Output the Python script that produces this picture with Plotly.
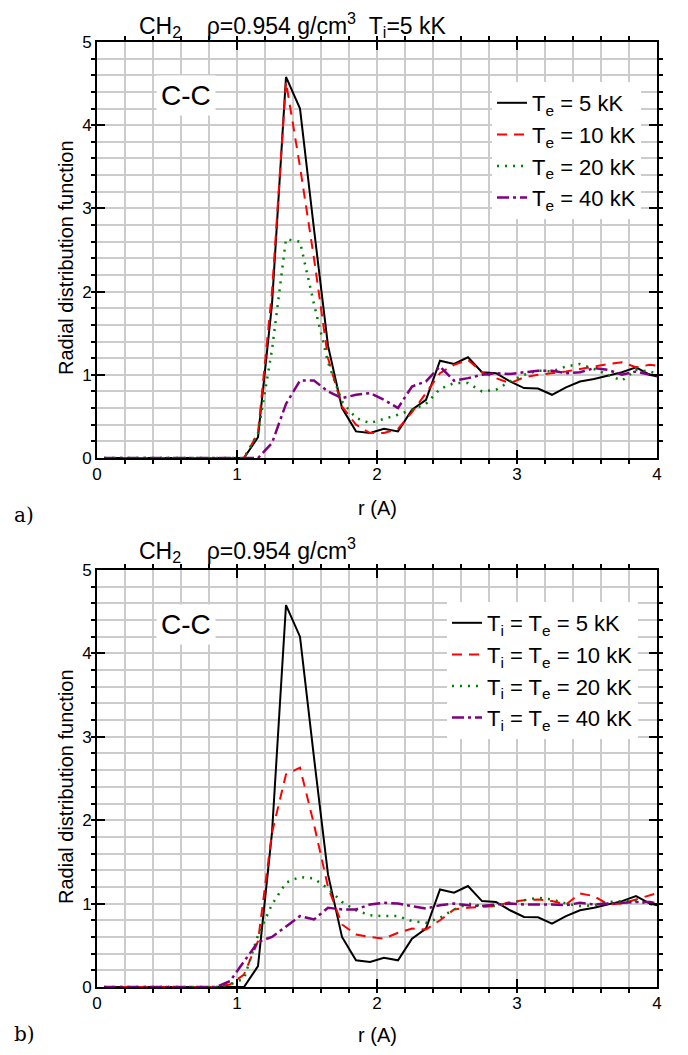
import plotly.graph_objects as go

# r grid (Angstrom)
r = [0.05, 0.15, 0.25, 0.35, 0.45, 0.55, 0.65, 0.75, 0.85, 0.95,
     1.05, 1.15, 1.25, 1.35, 1.45, 1.55, 1.65, 1.75, 1.85, 1.95,
     2.05, 2.15, 2.25, 2.35, 2.45, 2.55, 2.65, 2.75, 2.85, 2.95,
     3.05, 3.15, 3.25, 3.35, 3.45, 3.55, 3.65, 3.75, 3.85, 3.95, 4.05]

# panel a) Ti = 5 kK, varying Te
a_te5 = [0, 0, 0, 0, 0, 0, 0, 0, 0, 0,
         0, 0.25, 1.85, 4.58, 4.2, 2.75, 1.35, 0.6, 0.32, 0.30,
         0.35, 0.32, 0.58, 0.70, 1.17, 1.13, 1.21, 1.03, 1.02, 0.92,
         0.84, 0.835, 0.76, 0.85, 0.92, 0.95, 0.99, 1.03, 1.09, 1.0, 0.96]
a_te10 = [0, 0, 0, 0, 0, 0, 0, 0, 0, 0,
          0, 0.3, 2.0, 4.52, 3.5, 2.4, 1.2, 0.62, 0.40, 0.30,
          0.30, 0.35, 0.55, 0.78, 1.02, 1.12, 1.18, 1.03, 0.96, 0.90,
          0.97, 1.0, 1.02, 1.04, 1.07, 1.10, 1.13, 1.15, 1.09, 1.12, 1.10]
a_te20 = [0, 0, 0, 0, 0, 0, 0, 0, 0, 0,
          0, 0.3, 1.3, 2.63, 2.6, 1.85, 1.15, 0.68, 0.48, 0.42,
          0.47, 0.52, 0.58, 0.65, 0.83, 0.90, 0.90, 0.80, 0.82, 0.92,
          1.0, 1.05, 1.04, 1.10, 1.13, 1.07, 1.0, 0.93, 1.06, 1.04, 0.98]
a_te40 = [0, 0, 0, 0, 0, 0, 0, 0, 0, 0,
          0, 0, 0.18, 0.65, 0.93, 0.93, 0.80, 0.72, 0.76, 0.78,
          0.70, 0.60, 0.86, 0.92, 1.10, 0.93, 0.96, 1.0, 1.02, 1.01,
          1.03, 1.05, 1.05, 1.02, 1.03, 1.08, 1.06, 1.0, 1.04, 1.0, 0.98]

# panel b) Ti = Te
b_t5 = a_te5
b_t10 = [0, 0, 0, 0, 0, 0, 0, 0, 0, 0.03,
         0.15, 0.55, 1.85, 2.55, 2.63, 1.95, 1.2, 0.75, 0.63, 0.60,
         0.58, 0.65, 0.70, 0.69, 0.80, 0.93, 0.95, 0.96, 0.97, 1.02,
         1.04, 1.05, 1.03, 0.99, 1.12, 1.09, 0.99, 1.0, 1.05, 1.10, 1.15]
b_t20 = [0, 0, 0, 0, 0, 0, 0, 0, 0, 0.03,
         0.10, 0.62, 0.99, 1.25, 1.32, 1.30, 1.18, 1.02, 0.92, 0.86,
         0.85, 0.85, 0.79, 0.77, 0.83, 0.93, 1.0, 0.97, 0.97, 1.01,
         1.04, 1.07, 1.05, 1.0, 0.97, 0.98, 1.02, 1.03, 1.03, 0.99, 0.96]
b_t40 = [0, 0, 0, 0, 0, 0, 0, 0, 0, 0.07,
         0.30, 0.54, 0.60, 0.72, 0.85, 0.81, 0.95, 0.93, 0.93, 0.99,
         1.01, 1.0, 0.97, 0.94, 0.98, 1.0, 0.98, 0.97, 0.99, 1.0,
         0.99, 0.99, 0.99, 0.98, 1.01, 0.99, 1.0, 1.01, 1.02, 1.02, 0.98]

a_names = ["T<sub>e</sub> = 5 kK", "T<sub>e</sub> = 10 kK",
           "T<sub>e</sub> = 20 kK", "T<sub>e</sub> = 40 kK"]
b_names = ["T<sub>i</sub> = T<sub>e</sub> = 5 kK", "T<sub>i</sub> = T<sub>e</sub> = 10 kK",
           "T<sub>i</sub> = T<sub>e</sub> = 20 kK", "T<sub>i</sub> = T<sub>e</sub> = 40 kK"]

styles = [
    dict(color="black", width=2, dash="solid"),
    dict(color="#ff0000", width=2, dash="10px,7px"),
    dict(color="#008000", width=2.5, dash="2px,6px"),
    dict(color="#800080", width=2.5, dash="12px,4px,3px,4px"),
]

# the page body adds an 8px margin, so the figure is shrunk and
# every position below is given in window pixels
OFF = 8
W, H = 688 - 2 * OFF, 1055 - 2 * OFF


def px(x):
    return (x - OFF) / W


def py(y):
    return 1 - (y - OFF) / H


fig = go.Figure()

for ys, nm, st in zip([a_te5, a_te10, a_te20, a_te40], a_names, styles):
    fig.add_trace(go.Scatter(x=r, y=ys, name=nm, mode="lines", line=st,
                             xaxis="x", yaxis="y", legend="legend"))
for ys, nm, st in zip([b_t5, b_t10, b_t20, b_t40], b_names, styles):
    fig.add_trace(go.Scatter(x=r, y=ys, name=nm, mode="lines", line=st,
                             xaxis="x2", yaxis="y2", legend="legend2"))

font = "Liberation Sans, Arial, sans-serif"
grid = "#cccccc"


def axis(**kw):
    d = dict(
        showline=True, linecolor="black", linewidth=2, mirror="ticks",
        ticks="inside", ticklen=8, tickwidth=1.5, tickcolor="black",
        showgrid=True, gridcolor=grid, gridwidth=1.5, zeroline=False,
        automargin=False, dtick=1,
        tickfont=dict(family=font, size=17, color="black"),
        minor=dict(dtick=0.2, ticklen=4, tickcolor="black", showgrid=True,
                   gridcolor=grid, gridwidth=1.5),
    )
    d.update(kw)
    return d


xdom = [px(97), px(657)]
leg_font = dict(family=font, size=22, color="black")
fig.update_layout(
    width=W, height=H,
    margin=dict(l=0, r=0, t=0, b=0, autoexpand=False),
    paper_bgcolor="white", plot_bgcolor="white",
    font=dict(family=font, color="black"),
    xaxis=axis(domain=xdom, range=[0, 4], anchor="y"),
    yaxis=axis(domain=[py(458), py(42)], range=[0, 5], anchor="x"),
    xaxis2=axis(domain=xdom, range=[0, 4], anchor="y2"),
    yaxis2=axis(domain=[py(987), py(570)], range=[0, 5], anchor="x2"),
    legend=dict(x=px(492), y=py(82), xanchor="left", yanchor="top",
                bgcolor="white", borderwidth=0, font=leg_font),
    legend2=dict(x=px(447), y=py(602), xanchor="left", yanchor="top",
                 bgcolor="white", borderwidth=0, font=leg_font),
)

nb = "\u00a0"
ann = [
    dict(text="CH<sub>2</sub>" + nb * 4 + "ρ=0.954 g/cm<sup>3</sup>" + nb * 2 + "T<sub>i</sub>=5 kK",
         x=px(137), y=py(25), xanchor="left", yanchor="middle", font=dict(size=23)),
    dict(text="CH<sub>2</sub>" + nb * 4 + "ρ=0.954 g/cm<sup>3</sup>",
         x=px(137), y=py(550), xanchor="left", yanchor="middle", font=dict(size=23)),
    dict(text="C-C", x=px(186), y=py(95), xanchor="center", yanchor="middle",
         font=dict(size=28), bgcolor="white", borderpad=4),
    dict(text="C-C", x=px(186), y=py(624), xanchor="center", yanchor="middle",
         font=dict(size=28), bgcolor="white", borderpad=4),
    dict(text="r (A)", x=px(377), y=py(508), xanchor="center", yanchor="middle",
         font=dict(size=20)),
    dict(text="r (A)", x=px(377), y=py(1035), xanchor="center", yanchor="middle",
         font=dict(size=20)),
    dict(text="Radial distribution function", x=px(66), y=py(258), textangle=-90,
         xanchor="center", yanchor="middle", font=dict(size=20)),
    dict(text="Radial distribution function", x=px(66), y=py(787), textangle=-90,
         xanchor="center", yanchor="middle", font=dict(size=20)),
    dict(text="a)", x=px(24), y=py(515), xanchor="center", yanchor="middle",
         font=dict(size=20, family="DejaVu Serif, Liberation Serif, serif")),
    dict(text="b)", x=px(24), y=py(1034), xanchor="center", yanchor="middle",
         font=dict(size=20, family="DejaVu Serif, Liberation Serif, serif")),
]
for a in ann:
    a.update(xref="paper", yref="paper", showarrow=False)
    fig.add_annotation(**a)

fig.write_html("out.html")
